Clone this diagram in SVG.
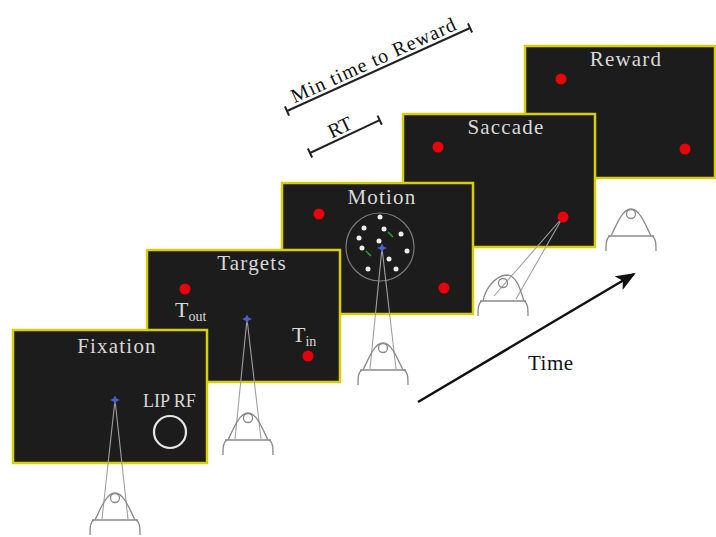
<svg xmlns="http://www.w3.org/2000/svg" xmlns:xlink="http://www.w3.org/1999/xlink" width="716" height="537" viewBox="0 0 716 537">
  <style>
    .screen { fill: #1c1c1c; stroke: #d8cf00; stroke-width: 2.5; }
    .title { font-family: "Liberation Serif", "Times New Roman", serif; font-size: 21px; fill: #d9d9d9; text-anchor: middle; letter-spacing: 1.2px; }
    .lbl { font-family: "Liberation Serif", "Times New Roman", serif; fill: #d9d9d9; }
    .blk { font-family: "Liberation Serif", "Times New Roman", serif; fill: #111; }
    .target { fill: #e8000a; }
    .gaze { stroke: #a0a0a0; stroke-width: 1.1; fill: none; }
    .head { fill: none; stroke: #8a8a8a; stroke-width: 1.3; }
    .dot { fill: #eeeeee; }
    .bracket { stroke: #222; stroke-width: 2; fill: none; }
  </style>
  <defs>
    <!-- fixation marker -->
    <polygon id="fix" points="0,-4.5 1.6,-1.4 5,0 1.6,1.4 0,4.5 -1.6,1.4 -5,0 -1.6,-1.4" fill="#4a5fc8"/>
    <!-- observer seen from behind: shoulders, base line, head dome, eye -->
    <g id="body" class="head">
      <path d="M-23,0 H23"/>
      <path d="M-21,0 C-25,2 -25,8 -25,15 M21,0 C25,2 25,8 25,15"/>
    </g>
    <g id="dome" class="head">
      <path d="M-20,0 C-15,-10 -9,-27 0,-27 C9,-27 15,-10 20,0"/>
      <circle cx="0" cy="-22" r="4.5"/>
    </g>
    <marker id="arrow" viewBox="0 0 20 16" refX="18" refY="8" markerWidth="20" markerHeight="16" markerUnits="userSpaceOnUse" orient="auto">
      <path d="M0,0 L20,8 L0,16 L5,8 Z" fill="#111"/>
    </marker>
  </defs>

  <!-- Reward screen -->
  <g id="reward">
    <rect class="screen" x="525" y="46" width="190" height="132"/>
    <text class="title" x="626" y="66">Reward</text>
    <circle class="target" cx="561" cy="79" r="5.5"/>
    <circle class="target" cx="685" cy="149" r="5.5"/>
    <use xlink:href="#body" x="631" y="236"/>
    <use xlink:href="#dome" x="631" y="236"/>
  </g>

  <!-- Saccade screen -->
  <g id="saccade">
    <rect class="screen" x="403" y="114" width="192" height="133"/>
    <text class="title" x="506" y="134">Saccade</text>
    <circle class="target" cx="438" cy="147" r="5.5"/>
    <path class="gaze" d="M563,217 L494,296 M563,217 L516,299"/>
    <circle class="target" cx="563" cy="217" r="5.5"/>
    <use xlink:href="#body" x="503" y="301"/>
    <g class="head">
      <path d="M483,301 C485,290 494,276 507,275 C516,275 520,288 524,301"/>
      <circle cx="503" cy="283" r="4.5"/>
    </g>
  </g>

  <!-- Motion screen -->
  <g id="motion">
    <rect class="screen" x="282" y="183" width="191" height="131"/>
    <text class="title" x="382" y="204">Motion</text>
    <circle class="target" cx="319" cy="214" r="5.5"/>
    <circle class="target" cx="444" cy="288" r="5.5"/>
    <circle cx="380" cy="247" r="34" fill="none" stroke="#7a7a7a" stroke-width="1.2"/>
    <g class="dot">
      <circle cx="380" cy="217" r="2.5"/>
      <circle cx="364" cy="228" r="2.5"/>
      <circle cx="384" cy="229" r="2.5"/>
      <circle cx="401" cy="234" r="2.5"/>
      <circle cx="359" cy="238" r="2.5"/>
      <circle cx="379" cy="241" r="2.5"/>
      <circle cx="362" cy="248" r="2.5"/>
      <circle cx="407" cy="251" r="2.5"/>
      <circle cx="389" cy="259" r="2.5"/>
      <circle cx="368" cy="269" r="2.5"/>
      <circle cx="396" cy="269" r="2.5"/>
    </g>
    <path d="M388,232 L393,237 M366,251 L371,256" stroke="#2f9a2f" stroke-width="1.6"/>
    <path class="gaze" d="M382,248 L370,369 M382,248 L396,369"/>
    <use xlink:href="#fix" x="382" y="248"/>
    <use xlink:href="#body" x="383" y="370"/>
    <use xlink:href="#dome" x="383" y="370"/>
  </g>

  <!-- Targets screen -->
  <g id="targets">
    <rect class="screen" x="147" y="250" width="193" height="132"/>
    <text class="title" x="252" y="270">Targets</text>
    <circle class="target" cx="185" cy="289" r="5.5"/>
    <text class="lbl" x="175" y="317" font-size="22">T<tspan font-size="14" dy="4">out</tspan></text>
    <text class="lbl" x="292" y="342" font-size="22">T<tspan font-size="14" dy="4">in</tspan></text>
    <circle class="target" cx="308" cy="356" r="5.5"/>
    <path class="gaze" d="M247,319 L235,439 M247,319 L261,439"/>
    <use xlink:href="#fix" x="247" y="319"/>
    <use xlink:href="#body" x="248" y="440"/>
    <use xlink:href="#dome" x="248" y="440"/>
  </g>

  <!-- Fixation screen -->
  <g id="fixation">
    <rect class="screen" x="13" y="330" width="194" height="133"/>
    <text class="title" x="117" y="353">Fixation</text>
    <text class="lbl" x="143" y="407" font-size="18">LIP RF</text>
    <circle cx="170" cy="432" r="16" fill="none" stroke="#e6e6e6" stroke-width="2.2"/>
    <path class="gaze" d="M115,400 L102,519 M115,400 L128,519"/>
    <use xlink:href="#fix" x="115" y="400"/>
    <use xlink:href="#body" x="115" y="520"/>
    <use xlink:href="#dome" x="115" y="520"/>
  </g>

  <!-- interval brackets and time axis -->
  <g id="connectors">
    <g id="min-time" transform="translate(287,111) rotate(-24.4)">
      <path class="bracket" d="M0,0 H201 M0,-5 V5 M201,-5 V5"/>
      <text class="blk" x="100" y="-4" font-size="20" text-anchor="middle" letter-spacing="1">Min time to Reward</text>
    </g>
    <g id="rt" transform="translate(310,153) rotate(-25.2)">
      <path class="bracket" d="M0,0 H77 M0,-5 V5 M77,-5 V5"/>
      <text class="blk" x="38" y="-4" font-size="20" text-anchor="middle">RT</text>
    </g>
    <line x1="418" y1="402" x2="634" y2="274" stroke="#111" stroke-width="2.5" marker-end="url(#arrow)"/>
    <text class="blk" x="528" y="370" font-size="21" letter-spacing="0.5">Time</text>
  </g>
</svg>
